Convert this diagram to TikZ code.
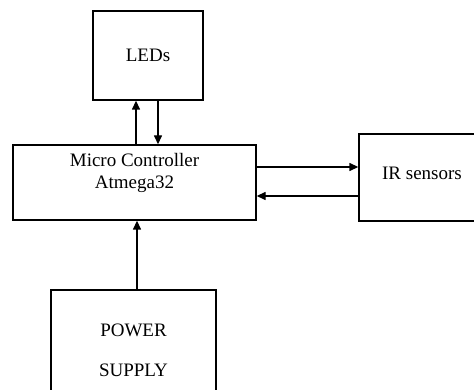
\documentclass[tikz,border=0pt]{standalone}
\usepackage{fontspec}
\setmainfont{Liberation Serif}
\usetikzlibrary{arrows.meta,positioning,calc}

\begin{document}
\begin{tikzpicture}[x=1pt,y=-1pt,font=\fontsize{19}{22}\selectfont,
    block/.style={rectangle,draw=black,line width=1.4pt,fill=white,inner sep=0pt,align=center},
    flow/.style={-{Triangle[length=9pt,width=8pt]},line width=1.4pt}]

  \useasboundingbox (0,0) rectangle (474,390);
  \clip (0,0) rectangle (474,390);

  \node[block,minimum width=243pt,minimum height=75pt] (mcu) at (134.5,182.5) {};
  \node[align=center] (mcutxt) at ([yshift=9.5pt]mcu.center) {Micro Controller\\Atmega32};
  \node[block,minimum width=110pt,minimum height=89pt] (leds) at (148,55.5) {LEDs};
  \node[block,minimum width=130pt,minimum height=87pt] (ir) at (424,177.5) {};
  \node (irtxt) at (422,173) {IR sensors};
  \node[block,minimum width=165pt,minimum height=120pt] (psu) at (133.5,350) {POWER\\[18pt]SUPPLY};

  \draw[flow] ([xshift=1.5pt]mcu.north) -- ([xshift=1.5pt]mcu.north |- leds.south);
  \draw[flow] ([xshift=10pt]leds.south) -- ([xshift=10pt]leds.south |- mcu.north);
  \draw[flow] ([yshift=15.5pt]mcu.east) -- ([yshift=15.5pt]mcu.east -| ir.west);
  \draw[flow] ([yshift=-13.5pt]mcu.east -| ir.west) -- ([yshift=-13.5pt]mcu.east);
  \draw[flow] ([xshift=3.5pt]psu.north) -- ([xshift=3.5pt]psu.north |- mcu.south);
\end{tikzpicture}
\end{document}
